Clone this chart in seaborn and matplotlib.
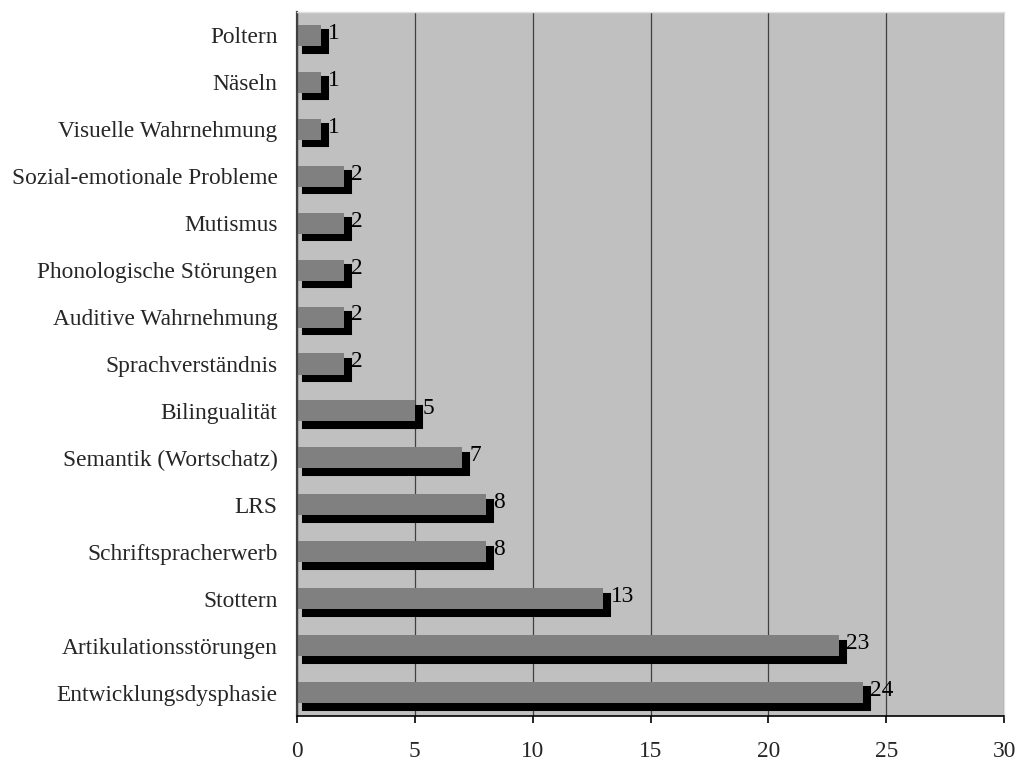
import numpy as np
import pandas as pd
import matplotlib
matplotlib.use("Agg")
import matplotlib.pyplot as plt
import matplotlib.transforms as mtransforms
import seaborn as sns

# Areas of speech/language difficulty and number of cases
categories = [
    "Poltern",
    "Näseln",
    "Visuelle Wahrnehmung",
    "Sozial-emotionale Probleme",
    "Mutismus",
    "Phonologische Störungen",
    "Auditive Wahrnehmung",
    "Sprachverständnis",
    "Bilingualität",
    "Semantik (Wortschatz)",
    "LRS",
    "Schriftspracherwerb",
    "Stottern",
    "Artikulationsstörungen",
    "Entwicklungsdysphasie",
]
counts = [1, 1, 1, 2, 2, 2, 2, 2, 5, 7, 8, 8, 13, 23, 24]
x_ticks = [0, 5, 10, 15, 20, 25, 30]

df = pd.DataFrame({"Bereich": categories, "Anzahl": counts})

sns.set_style("white")
plt.rcParams["font.family"] = ["Liberation Serif", "DejaVu Serif"]
FS = 16.8

fig = plt.figure(figsize=(10.16, 7.6), dpi=100)
ax = fig.add_axes([297 / 1016, 1 - 716 / 760, 707 / 1016, 704 / 760])
ax.set_facecolor("#C0C0C0")

BAR_W = 0.45

# black drop shadow: same bars, shifted right/down by a few pixels
sns.barplot(data=df, x="Anzahl", y="Bereich", order=categories, orient="h",
            color="black", saturation=1, width=BAR_W, errorbar=None,
            edgecolor="black", linewidth=2.2, ax=ax)
shadow = list(ax.patches)
shift = mtransforms.ScaledTranslation(6 / 100, -5.5 / 100, fig.dpi_scale_trans)
for p in shadow:
    p.set_transform(ax.transData + shift)

# gray bars in front
sns.barplot(data=df, x="Anzahl", y="Bereich", order=categories, orient="h",
            color="#808080", saturation=1, width=BAR_W, errorbar=None,
            linewidth=0, ax=ax)
front = [p for p in ax.patches if p not in shadow]

for p, v in zip(front, counts):
    yc = p.get_y() + p.get_height() / 2
    ax.annotate(str(v), xy=(v, yc), xytext=(5.3, 1.5), textcoords="offset points",
                ha="left", va="center", fontsize=FS, color="black",
                annotation_clip=False)

ax.set_xlim(0, 30)
ax.set_xticks(x_ticks)
ax.set_xticklabels([str(t) for t in x_ticks], fontsize=FS)
ax.set_ylim(len(categories) - 0.5, -0.5)
ax.set_yticks(np.arange(len(categories)))
ax.set_yticklabels(categories, fontsize=FS)
ax.set_yticks(np.arange(-0.5, len(categories), 1), minor=True)
ax.set_xlabel("")
ax.set_ylabel("")

ax.tick_params(axis="y", which="major", length=0, pad=14)
ax.tick_params(axis="y", which="minor", length=6.5, width=1.2,
               color="#303030", direction="out")
ax.tick_params(axis="x", which="major", length=5, width=1.2, color="black",
               direction="out", pad=13, bottom=True)

ax.xaxis.grid(True, color="#404040", linewidth=0.9)
ax.yaxis.grid(False)
ax.set_axisbelow(True)

ax.spines["left"].set_color("#404040")
ax.spines["left"].set_linewidth(1.6)
ax.spines["bottom"].set_color("black")
ax.spines["bottom"].set_linewidth(1.2)
for s in ("top", "right"):
    ax.spines[s].set_color("#e0e0e0")
    ax.spines[s].set_linewidth(1.0)

fig.savefig("out.png", dpi=100)
